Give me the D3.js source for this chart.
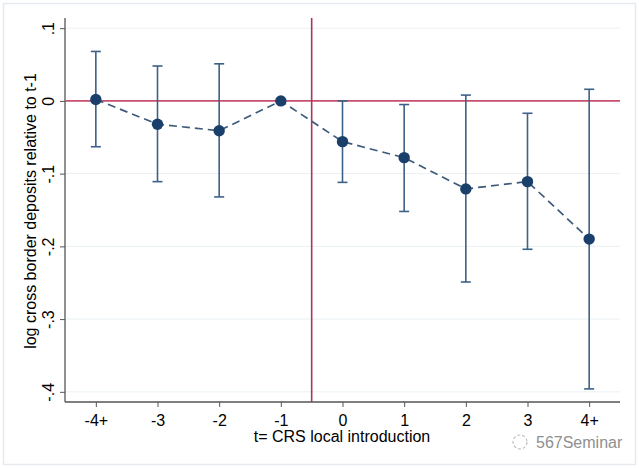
<!DOCTYPE html>
<html>
<head>
<meta charset="utf-8">
<script src="https://cdn.jsdelivr.net/npm/d3@7"></script>
<style>
body { margin: 0; background: #fff; }
text { font-family: "Liberation Sans", Arial, sans-serif; }
</style>
</head>
<body>
<svg id="chart" width="639" height="468"></svg>
<script>
var periods = ["-4+", "-3", "-2", "-1", "0", "1", "2", "3", "4+"];
var estimates = [0.002, -0.032, -0.041, 0.000, -0.056, -0.078, -0.121, -0.111, -0.190];
var ciUpper = [0.068, 0.048, 0.051, null, 0.000, -0.005, 0.008, -0.017, 0.016];
var ciLower = [-0.063, -0.111, -0.132, null, -0.112, -0.152, -0.249, -0.204, -0.396];
var yTicks = [0.1, 0, -0.1, -0.2, -0.3, -0.4];
var yTickLabels = [".1", "0", "-.1", "-.2", "-.3", "-.4"];

var svg = d3.select("#chart");
var plotL = 65, plotR = 620, plotT = 18, plotB = 402;

// outer frame
svg.append("rect").attr("x", 3.5).attr("y", 3.5).attr("width", 632).attr("height", 461)
    .attr("fill", "#fff").attr("stroke", "#e6eaee").attr("stroke-width", 1.5);

var x = d3.scaleLinear().domain([-0.5, 8.5]).range([plotL, plotR]);
var y = d3.scaleLinear().domain([-0.414, 0.114]).range([plotB, plotT]);

// gridlines
svg.selectAll("line.grid").data(yTicks).enter().append("line")
    .attr("class", "grid")
    .attr("x1", plotL).attr("x2", plotR)
    .attr("y1", function(d) { return y(d); })
    .attr("y2", function(d) { return y(d); })
    .attr("stroke", "#eaf0f3").attr("stroke-width", 1);

// axes
var yAxis = d3.axisLeft(y).tickValues(yTicks).tickSize(5)
    .tickFormat(function(d, i) { return yTickLabels[i]; });
var gy = svg.append("g").attr("transform", "translate(" + plotL + ",0)").call(yAxis);
gy.select(".domain").attr("stroke", "#555").attr("stroke-width", 1.3).attr("d", "M0," + plotT + "V" + plotB);
gy.selectAll(".tick line").attr("stroke", "#555");
gy.selectAll(".tick text")
    .attr("transform", "rotate(-90)")
    .attr("x", 0).attr("y", -11.5).attr("dy", "0")
    .attr("text-anchor", "middle")
    .style("font-size", "16px").attr("fill", "#000");

var xAxis = d3.axisBottom(x).tickValues(d3.range(periods.length)).tickSize(5)
    .tickFormat(function(d) { return periods[d]; });
var gx = svg.append("g").attr("transform", "translate(0," + plotB + ")").call(xAxis);
gx.select(".domain").attr("stroke", "#555").attr("stroke-width", 1.3).attr("d", "M" + plotL + ",0H" + plotR);
gx.selectAll(".tick line").attr("stroke", "#555");
gx.selectAll(".tick text").attr("y", 24).attr("dy", "0")
    .style("font-size", "16px").attr("fill", "#000");

// reference lines
svg.append("line").attr("x1", plotL).attr("x2", plotR).attr("y1", y(0)).attr("y2", y(0))
    .attr("stroke", "#c8506e").attr("stroke-width", 1.6);
svg.append("line").attr("x1", x(3.5)).attr("x2", x(3.5)).attr("y1", plotT).attr("y2", plotB)
    .attr("stroke", "#b03458").attr("stroke-width", 1.6);

// confidence intervals
var ci = periods.map(function(p, i) { return {i: i, lo: ciLower[i], hi: ciUpper[i]}; })
    .filter(function(d) { return d.lo !== null; });
var capW = 5;
var g = svg.append("g").attr("stroke", "#3e6187").attr("stroke-width", 1.6);
g.selectAll("line.ci").data(ci).enter().append("line")
    .attr("x1", function(d) { return x(d.i); }).attr("x2", function(d) { return x(d.i); })
    .attr("y1", function(d) { return y(d.hi); }).attr("y2", function(d) { return y(d.lo); });
g.selectAll("line.capHi").data(ci).enter().append("line")
    .attr("x1", function(d) { return x(d.i) - capW; }).attr("x2", function(d) { return x(d.i) + capW; })
    .attr("y1", function(d) { return y(d.hi); }).attr("y2", function(d) { return y(d.hi); });
g.selectAll("line.capLo").data(ci).enter().append("line")
    .attr("x1", function(d) { return x(d.i) - capW; }).attr("x2", function(d) { return x(d.i) + capW; })
    .attr("y1", function(d) { return y(d.lo); }).attr("y2", function(d) { return y(d.lo); });

// dashed connecting line
var line = d3.line().x(function(d, i) { return x(i); }).y(function(d) { return y(d); });
svg.append("path").datum(estimates).attr("d", line)
    .attr("fill", "none").attr("stroke", "#3e5a7a").attr("stroke-width", 1.7)
    .attr("stroke-dasharray", "8,5");

svg.selectAll("circle.pt").data(estimates).enter().append("circle")
    .attr("cx", function(d, i) { return x(i); }).attr("cy", function(d) { return y(d); })
    .attr("r", 5.7).attr("fill", "#1a3f6b");

// titles
svg.append("text").attr("x", 342).attr("y", 442)
    .attr("text-anchor", "middle").style("font-size", "16px").text("t= CRS local introduction");
svg.append("text").attr("transform", "translate(36,211) rotate(-90)")
    .attr("text-anchor", "middle").style("font-size", "16px").text("log cross border deposits relative to t-1");

// watermark
svg.append("circle").attr("cx", 520).attr("cy", 442).attr("r", 7).attr("fill", "none")
    .attr("stroke", "#c0c0c0").attr("stroke-width", 1.2).attr("stroke-dasharray", "3,2");
svg.append("text").attr("x", 536).attr("y", 448).style("font-size", "16px")
    .attr("fill", "#8f8f8f").text("567Seminar");
</script>
</body>
</html>
